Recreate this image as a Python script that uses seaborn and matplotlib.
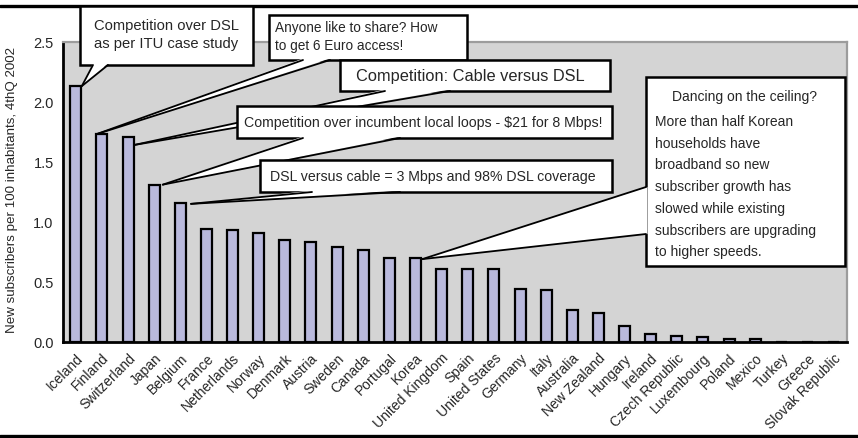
import matplotlib
matplotlib.use('Agg')
import matplotlib.pyplot as plt
import numpy as np
import pandas as pd
import seaborn as sns
from matplotlib.lines import Line2D
from matplotlib.patches import Polygon, Rectangle

COUNTRIES = ['Iceland', 'Finland', 'Switzerland', 'Japan', 'Belgium', 'France', 'Netherlands',
             'Norway', 'Denmark', 'Austria', 'Sweden', 'Canada', 'Portugal', 'Korea',
             'United Kingdom', 'Spain', 'United States', 'Germany', 'Italy', 'Australia',
             'New Zealand', 'Hungary', 'Ireland', 'Czech Republic', 'Luxembourg', 'Poland',
             'Mexico', 'Turkey', 'Greece', 'Slovak Republic']
NEW_SUBS = [2.13, 1.73, 1.71, 1.31, 1.16, 0.94, 0.93, 0.91, 0.85, 0.83, 0.79, 0.77, 0.70, 0.70,
            0.61, 0.61, 0.61, 0.44, 0.435, 0.27, 0.24, 0.13, 0.07, 0.05, 0.04, 0.025, 0.025,
            0.0, 0.0, 0.0]
Y_TICKS = [0.0, 0.5, 1.0, 1.5, 2.0, 2.5]
Y_LABEL = 'New subscribers per 100 inhabitants, 4thQ 2002'

KOREA_NOTE = ['More than half Korean', 'households have', 'broadband so new',
              'subscriber growth has', 'slowed while existing',
              'subscribers are upgrading', 'to higher speeds.']

W, H = 858, 439
BAR_COLOR = '#b9b9dc'
BG = '#d4d4d4'

sns.set_style('white')
plt.rcParams['font.family'] = ['Liberation Sans', 'DejaVu Sans']


def fx(x, y):
    return (x / W, 1 - y / H)


def callout(fig, ax, box, base, tip, z):
    # box and base in pixels from top-left, tip in data coords
    x0, y0, x1, y1 = box
    fig.add_artist(Rectangle(fx(x0, y1), (x1 - x0) / W, (y1 - y0) / H, transform=fig.transFigure,
                             facecolor='white', edgecolor='black', lw=1.8, zorder=z))
    tipf = fig.transFigure.inverted().transform(ax.transData.transform(tip))
    (ax_, ay_), (bx_, by_) = base
    # push the base a bit into the box so the border is hidden at the opening
    if ay_ == by_:
        inset = 1.5 if ay_ == y1 else -1.5
        poly = [fx(ax_, ay_ - inset), fx(bx_, by_ - inset)]
    else:
        poly = [fx(ax_ + 1.5, ay_), fx(bx_ + 1.5, by_)]
    fig.add_artist(Polygon([tipf, poly[0], poly[1]], closed=True, transform=fig.transFigure,
                           facecolor='white', edgecolor='none', zorder=z + 0.1))
    for p in base:
        q = fx(*p)
        fig.add_artist(Line2D([tipf[0], q[0]], [tipf[1], q[1]], transform=fig.transFigure,
                              color='black', lw=1.3, zorder=z + 0.2))


df = pd.DataFrame({'country': COUNTRIES, 'value': NEW_SUBS})

fig = plt.figure(figsize=(W / 100, H / 100), dpi=100)
ax = fig.add_axes([62.7 / W, 1 - 343 / H, (846.7 - 62.7) / W, (343 - 42.7) / H])
sns.barplot(data=df, x='country', y='value', color=BAR_COLOR, saturation=1, width=0.42,
            edgecolor='black', linewidth=1.6, ax=ax)
ax.set_facecolor(BG)
ax.set_xlim(-0.5, len(COUNTRIES) - 0.5)
ax.set_ylim(0, 2.5)
ax.set_yticks(Y_TICKS)
ax.set_yticklabels([f'{v:.1f}' for v in Y_TICKS], fontsize=10.5)
ax.set_xticks(range(len(COUNTRIES)))
ax.set_xticklabels(COUNTRIES, rotation=45, ha='right', va='top', rotation_mode='anchor', fontsize=10)
ax.set_xticks(np.arange(-0.5, len(COUNTRIES)), minor=True)
ax.tick_params(axis='x', which='major', length=0, pad=6)
ax.tick_params(axis='x', which='minor', length=4.5, width=1.6, direction='out', color='black')
ax.tick_params(axis='y', length=4.5, width=1.6, direction='out', color='black', pad=2)
ax.set_xlabel('')
ax.set_ylabel(Y_LABEL, fontsize=9.6)
ax.yaxis.set_label_coords((18 - 62.7) / 784, 0.51)
for side in ('left', 'bottom'):
    ax.spines[side].set_color('black')
    ax.spines[side].set_linewidth(2)
for side in ('top', 'right'):
    ax.spines[side].set_color('#9c9c9c')
    ax.spines[side].set_linewidth(1.6)
ax.grid(False)

# frame lines at top and bottom of the page
for y in (7, 437):
    fig.add_artist(Line2D([0, 1], [1 - y / H] * 2, transform=fig.transFigure, color='black', lw=2.4))

hw = 0.21
callout(fig, ax, (80, 7, 253, 66), [(93, 66), (108, 66)], (0 + hw + 0.02, NEW_SUBS[0]), 10)
fig.text(*fx(166, 35), 'Competition over DSL\nas per ITU case study', ha='center', va='center',
         fontsize=10.6, linespacing=1.35, zorder=11)

callout(fig, ax, (269, 16, 467, 61), [(303, 61), (330, 61)], (1 - hw, NEW_SUBS[1]), 12)
fig.text(*fx(275, 37), 'Anyone like to share? How\nto get 6 Euro access!', ha='left', va='center',
         fontsize=9.8, linespacing=1.35, zorder=13)

callout(fig, ax, (340, 61, 610, 92), [(385, 92), (450, 92)], (2 + hw + 0.02, NEW_SUBS[2] - 0.07), 14)
fig.text(*fx(470, 77), 'Competition: Cable versus DSL', ha='center', va='center', fontsize=11.8, zorder=15)

callout(fig, ax, (237, 107, 612, 139), [(303, 139), (400, 139)], (3 + hw + 0.12, NEW_SUBS[3]), 16)
fig.text(*fx(423, 123), 'Competition over incumbent local loops - $21 for 8 Mbps!', ha='center',
         va='center', fontsize=10.2, zorder=17)

callout(fig, ax, (260, 161, 612, 193), [(312, 193), (400, 193)], (4 + hw + 0.2, NEW_SUBS[4] - 0.01), 18)
fig.text(*fx(433, 177), 'DSL versus cable = 3 Mbps and 98% DSL coverage', ha='center', va='center',
         fontsize=10.2, zorder=19)

callout(fig, ax, (646, 78, 845, 267), [(646, 188), (646, 235)], (13 + hw + 0.05, NEW_SUBS[13] - 0.01), 20)
fig.text(*fx(745, 97), 'Dancing on the ceiling?', ha='center', va='center', fontsize=10, zorder=21)
fig.text(*fx(655, 115), '\n'.join(KOREA_NOTE), ha='left', va='top', fontsize=10, linespacing=1.7,
         zorder=21)

fig.savefig('out.png', dpi=100)
